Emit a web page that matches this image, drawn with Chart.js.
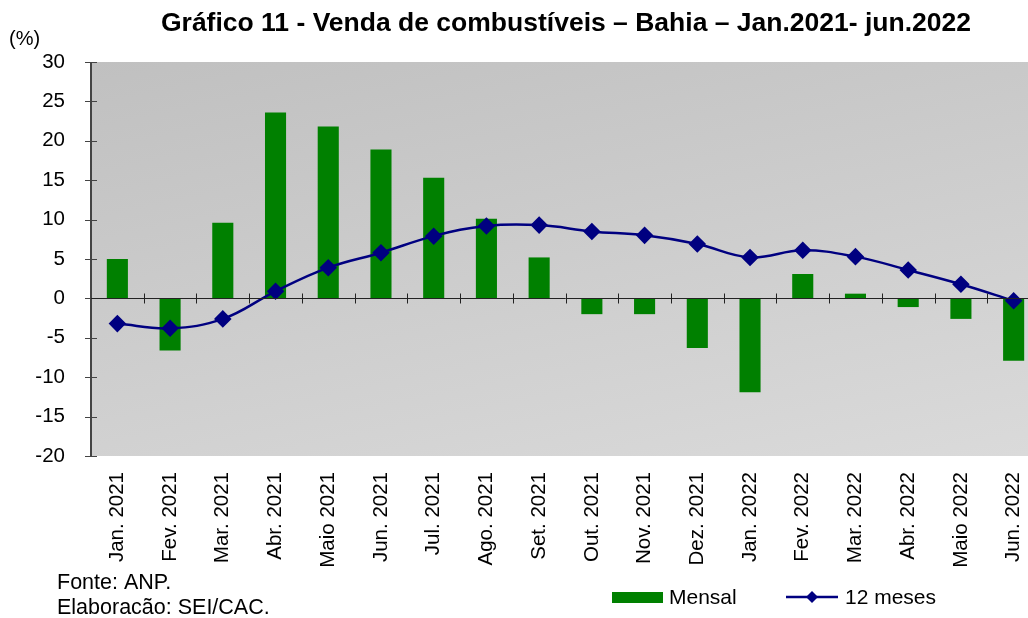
<!DOCTYPE html>
<html>
<head>
<meta charset="utf-8">
<script src="https://cdn.jsdelivr.net/npm/chart.js@4/dist/chart.umd.min.js"></script>
<style>
html,body{margin:0;padding:0;background:#fff;overflow:hidden;}
#wrap{width:1028px;height:618px;position:relative;overflow:hidden;}
#c{display:block;}
</style>
</head>
<body>
<div id="wrap"><canvas id="c" width="1040" height="618"></canvas></div>
<script>
const categories = ["Jan. 2021","Fev. 2021","Mar. 2021","Abr. 2021","Maio 2021","Jun. 2021","Jul. 2021","Ago. 2021","Set. 2021","Out. 2021","Nov. 2021","Dez. 2021","Jan. 2022","Fev. 2022","Mar. 2022","Abr. 2022","Maio 2022","Jun. 2022"];
const mensal = [5.0,-6.6,9.6,23.6,21.8,18.9,15.3,10.1,5.2,-2.0,-2.0,-6.3,-11.9,3.1,0.6,-1.1,-2.6,-7.9];
const dozeMeses = [-3.2,-3.8,-2.6,0.9,3.9,5.8,7.9,9.2,9.3,8.5,8.0,6.9,5.2,6.1,5.3,3.6,1.8,-0.3];
const yTicks = [30,25,20,15,10,5,0,-5,-10,-15,-20];
const titleText = "Gráfico 11 - Venda de combustíveis – Bahia – Jan.2021- jun.2022";
const unitText = "(%)";
const footerLines = ["Fonte: ANP.","Elaboracão: SEI/CAC."];
const legendNames = ["Mensal","12 meses"];

const FONT = "'Liberation Sans', Arial, sans-serif";

const decor = {
  id:'decor',
  beforeDraw(chart){
    const {ctx, chartArea:a} = chart;
    const g = ctx.createLinearGradient(a.left, a.top, a.left+119, a.top+565);
    g.addColorStop(0,'#c0c0c0');
    g.addColorStop(1,'#dadada');
    ctx.save();
    ctx.fillStyle = g;
    ctx.fillRect(a.left, a.top, a.right-a.left, a.bottom-a.top);
    ctx.restore();
  },
  beforeDatasetsDraw(chart){
    const {ctx, chartArea:a, scales:{x,y}} = chart;
    ctx.save();
    ctx.strokeStyle = '#444';
    ctx.lineWidth = 2;
    ctx.beginPath();
    ctx.moveTo(a.left, a.top); ctx.lineTo(a.left, a.bottom);
    ctx.stroke();
    ctx.lineWidth = 1;
    ctx.beginPath();
    yTicks.forEach(v=>{
      const py = Math.round(y.getPixelForValue(v))+0.5;
      ctx.moveTo(a.left-6, py); ctx.lineTo(a.left+6, py);
    });
    ctx.stroke();
    ctx.restore();
  },
  afterDatasetsDraw(chart){
    const {ctx, chartArea:a, scales:{x,y}} = chart;
    ctx.save();
    const y0 = Math.round(y.getPixelForValue(0))+0.5;
    ctx.strokeStyle = '#222';
    ctx.lineWidth = 1;
    ctx.beginPath();
    ctx.moveTo(a.left, y0); ctx.lineTo(a.right, y0);
    for(let i=1;i<categories.length;i++){
      const px = Math.round((x.getPixelForValue(i-1)+x.getPixelForValue(i))/2)+0.5;
      ctx.moveTo(px, y0-5); ctx.lineTo(px, y0+5);
    }
    ctx.stroke();
    ctx.restore();
  },
  afterDraw(chart){
    const {ctx} = chart;
    ctx.save();
    ctx.fillStyle = '#000';
    ctx.textBaseline = 'middle';
    ctx.font = "bold 26.5px " + FONT;
    ctx.textAlign = 'center';
    ctx.fillText(titleText, 566, 24);
    ctx.textAlign = 'left';
    ctx.font = "20px " + FONT;
    ctx.fillText(unitText, 9, 39);
    ctx.font = "21.5px " + FONT;
    ctx.fillText(footerLines[0], 57, 583);
    ctx.fillText(footerLines[1], 57, 608);
    // legend
    ctx.fillStyle = '#008000';
    ctx.fillRect(612, 592, 51, 11);
    ctx.font = "21px " + FONT;
    ctx.fillStyle = '#000';
    ctx.fillText(legendNames[0], 669, 598);
    ctx.strokeStyle = '#000080';
    ctx.lineWidth = 2.5;
    ctx.beginPath(); ctx.moveTo(786, 597); ctx.lineTo(838, 597); ctx.stroke();
    ctx.fillStyle = '#000080';
    ctx.beginPath();
    ctx.moveTo(812, 591); ctx.lineTo(818, 597); ctx.lineTo(812, 603); ctx.lineTo(806, 597); ctx.closePath(); ctx.fill();
    ctx.fillStyle = '#000';
    ctx.fillText(legendNames[1], 845, 598);
    ctx.restore();
  }
};

new Chart(document.getElementById('c'), {
  type:'bar',
  data:{
    labels: categories,
    datasets:[
      {type:'line', label:legendNames[1], data:dozeMeses, borderColor:'#000080', backgroundColor:'#000080', borderWidth:2.5,
       tension:0.4, pointStyle:'rectRot', pointRadius:7, pointHoverRadius:7, order:0, clip:false},
      {type:'bar', label:legendNames[0], data:mensal, backgroundColor:'#008000', categoryPercentage:1, barPercentage:0.4, order:1}
    ]
  },
  options:{
    responsive:false,
    animation:false,
    events:[],
    layout:{autoPadding:false, padding:{top:62, right:0, bottom:0, left:0}},
    plugins:{legend:{display:false}, title:{display:false}, tooltip:{enabled:false}},
    scales:{
      x:{
        offset:true,
        grid:{display:false},
        border:{display:false},
        ticks:{color:'#000', font:{family:FONT, size:20.5}, minRotation:90, maxRotation:90, padding:8, autoSkip:false},
        afterFit(s){ s.height = 162; s.paddingLeft = 0; s.paddingRight = 0; }
      },
      y:{
        min:-20, max:30,
        grid:{display:false},
        border:{display:false},
        ticks:{color:'#000', font:{family:FONT, size:20.5}, stepSize:5, padding:18},
        afterFit(s){ s.width = 91; }
      }
    }
  },
  plugins:[decor]
});
</script>
</body>
</html>
